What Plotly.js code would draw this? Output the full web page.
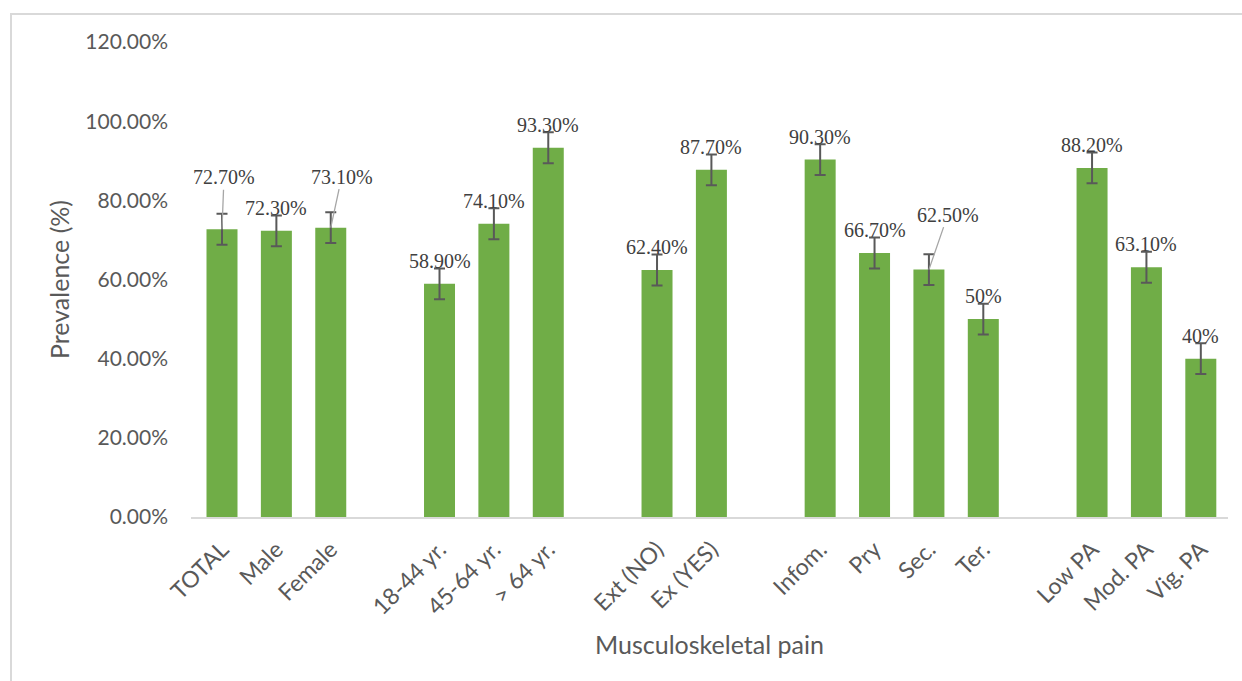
<!DOCTYPE html>
<html>
<head>
<meta charset="utf-8">
<script src="https://cdn.plot.ly/plotly-3.0.1.min.js"></script>
<style>
  html, body { margin: 0; padding: 0; background: #fff; overflow: hidden; }
  #wrap { position: relative; width: 1242px; height: 681px; }
  #chart { position: absolute; left: 0; top: 0; width: 1242px; height: 681px; }
  #frame { position: absolute; left: 10px; top: 13px; width: 1300px; height: 720px;
           border: 2px solid #D9D9D9; box-sizing: border-box; pointer-events: none; }
</style>
</head>
<body>
<div id="wrap">
  <div id="chart"></div>
  <div id="frame"></div>
</div>
<script>
// ---- data ----
const groups = [
  ["TOTAL", "Male", "Female"],
  ["18-44 yr.", "45-64 yr.", "> 64 yr."],
  ["Ext (NO)", "Ex (YES)"],
  ["Infom.", "Pry", "Sec.", "Ter."],
  ["Low PA", "Mod. PA", "Vig. PA"]
];
const prevalence = {
  "TOTAL": 72.7, "Male": 72.3, "Female": 73.1,
  "18-44 yr.": 58.9, "45-64 yr.": 74.1, "> 64 yr.": 93.3,
  "Ext (NO)": 62.4, "Ex (YES)": 87.7,
  "Infom.": 90.3, "Pry": 66.7, "Sec.": 62.5, "Ter.": 50,
  "Low PA": 88.2, "Mod. PA": 63.1, "Vig. PA": 40
};
const labelText = {
  "TOTAL": "72.70%", "Male": "72.30%", "Female": "73.10%",
  "18-44 yr.": "58.90%", "45-64 yr.": "74.10%", "> 64 yr.": "93.30%",
  "Ext (NO)": "62.40%", "Ex (YES)": "87.70%",
  "Infom.": "90.30%", "Pry": "66.70%", "Sec.": "62.50%", "Ter.": "50%",
  "Low PA": "88.20%", "Mod. PA": "63.10%", "Vig. PA": "40%"
};
const errorMargin = {
  "TOTAL": 3.9, "Male": 3.9, "Female": 3.9,
  "18-44 yr.": 3.9, "45-64 yr.": 3.9, "> 64 yr.": 3.9,
  "Ext (NO)": 3.9, "Ex (YES)": 3.9,
  "Infom.": 3.9, "Pry": 3.9, "Sec.": 3.9, "Ter.": 3.9,
  "Low PA": 3.9, "Mod. PA": 3.9, "Vig. PA": 3.9
};
const yTicks = [0, 20, 40, 60, 80, 100, 120];
const yTickText = ["0.00%", "20.00%", "40.00%", "60.00%", "80.00%", "100.00%", "120.00%"];
// labels that were moved away from the bar, with a leader line (pixel offsets of the label)
const movedLabels = { "TOTAL": [2, -52], "Female": [11, -51], "Sec.": [19, -55] };

// ---- build category axis with blank spacer slots between groups ----
const cats = [];
groups.forEach((g, i) => {
  g.forEach(c => cats.push(c));
  if (i < groups.length - 1) cats.push(" ".repeat(i + 1));
});
const yVals = cats.map(c => (c in prevalence ? prevalence[c] : null));
const errVals = cats.map(c => (c in errorMargin ? errorMargin[c] : null));

const trace = {
  type: "bar",
  x: cats,
  y: yVals,
  marker: { color: "#70AD47", line: { width: 0 } },
  error_y: { type: "data", array: errVals, visible: true, color: "#595959", thickness: 2, width: 5.5 },
  hoverinfo: "x+y"
};

const annotations = [];
Object.keys(prevalence).forEach(c => {
  const base = { x: c, y: prevalence[c], xref: "x", yref: "y", text: labelText[c],
                 font: { family: "Liberation Serif, Times New Roman, serif", size: 20, color: "#404040" } };
  if (movedLabels[c]) {
    annotations.push(Object.assign(base, {
      showarrow: true, arrowhead: 0, arrowwidth: 1.3, arrowcolor: "#A6A6A6",
      ax: movedLabels[c][0], ay: movedLabels[c][1], standoff: 0
    }));
  } else {
    annotations.push(Object.assign(base, { showarrow: false, yanchor: "middle", yshift: 23 }));
  }
});

const tickFontX = { family: "Lato, Open Sans, sans-serif", size: 23, color: "#595959" };
const tickFontY = { family: "Lato, Open Sans, sans-serif", size: 21, color: "#595959" };
const titleFont = { family: "Lato, Open Sans, sans-serif", size: 25, color: "#595959" };

const layout = {
  width: 1242, height: 681,
  margin: { l: 191, r: 14, t: 42, b: 164 },
  paper_bgcolor: "#ffffff", plot_bgcolor: "#ffffff",
  showlegend: false,
  bargap: 0.43,
  xaxis: {
    type: "category",
    categoryorder: "array", categoryarray: cats,
    tickangle: -45,
    tickfont: tickFontX,
    ticks: "", ticklabelstandoff: 8,
    showgrid: false, zeroline: false,
    showline: true, linecolor: "#D9D9D9", linewidth: 2,
    title: { text: "Musculoskeletal pain", font: titleFont, standoff: 18 },
    fixedrange: true
  },
  yaxis: {
    range: [0, 120],
    tickmode: "array", tickvals: yTicks, ticktext: yTickText,
    tickfont: tickFontY,
    ticks: "", ticklabelstandoff: 22,
    showgrid: false, zeroline: false, showline: false,
    title: { text: "Prevalence (%)", font: titleFont, standoff: 8 },
    fixedrange: true
  },
  annotations: annotations
};

Plotly.newPlot("chart", [trace], layout, { displayModeBar: false, staticPlot: true });
</script>
</body>
</html>
